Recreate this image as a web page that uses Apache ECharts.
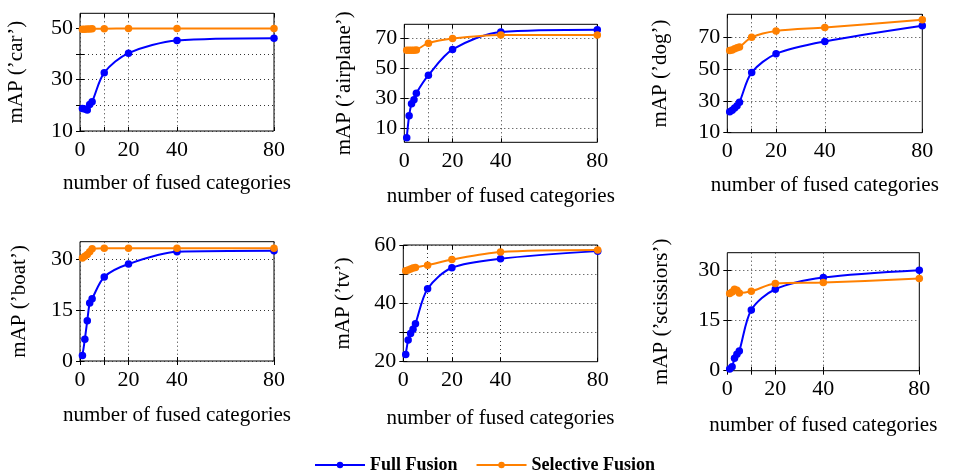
<!DOCTYPE html>
<html><head><meta charset="utf-8">
<script src="https://cdn.jsdelivr.net/npm/echarts@6/dist/echarts.min.js"></script>
<style>html,body{margin:0;padding:0;background:#fff}#c{width:954px;height:473px}</style>
</head><body><div id="c"></div>
<script>
// ---- data ----
const xs = [1, 2, 3, 4, 5, 10, 20, 40, 80];
const xTickLabels = [0, 20, 40, 80];
const xTicks = [0, 10, 20, 40, 80];

const carFull = [18.8, 18.6, 18.2, 20.3, 21.4, 32.7, 40.3, 45.2, 46.1];
const carSelective = [49.6, 49.6, 49.7, 49.7, 49.8, 49.8, 49.9, 49.9, 49.9];
const carYTicks = [10, 20, 30, 40, 50];
const carYLabels = [10, 30, 50];

const airplaneFull = [3.5, 18.2, 26.2, 28.9, 33.3, 45.3, 62.5, 74.2, 75.7];
const airplaneSelective = [62.0, 62.0, 62.0, 62.0, 62.2, 66.7, 69.8, 72.2, 72.2];
const airplaneYTicks = [10, 30, 50, 70];
const airplaneYLabels = [10, 30, 50, 70];

const dogFull = [23.2, 24.2, 25.5, 27.0, 29.2, 47.9, 59.6, 67.4, 77.3];
const dogSelective = [61.7, 62.0, 62.8, 63.4, 63.9, 70.0, 74.0, 76.2, 81.1];
const dogYTicks = [10, 30, 50, 70];
const dogYLabels = [10, 30, 50, 70];

const boatFull = [1.6, 6.4, 11.9, 17.1, 18.4, 24.8, 28.6, 32.2, 32.5];
const boatSelective = [30.4, 30.9, 31.4, 32.2, 33.1, 33.3, 33.3, 33.3, 33.3];
const boatYTicks = [0, 15, 30];
const boatYLabels = [0, 15, 30];

const tvFull = [22.5, 27.4, 29.7, 31.1, 33.0, 45.0, 52.2, 55.3, 57.9];
const tvSelective = [51.2, 51.4, 51.8, 52.1, 52.3, 53.1, 55.0, 57.6, 58.3];
const tvYTicks = [20, 30, 40, 50, 60];
const tvYLabels = [20, 40, 60];

const scissorsFull = [0.5, 1.2, 3.7, 4.9, 5.9, 18.1, 24.3, 27.8, 30.0];
const scissorsSelective = [23.0, 23.5, 24.3, 24.0, 23.2, 23.7, 26.0, 26.3, 27.5];
const scissorsYTicks = [0, 15, 30];
const scissorsYLabels = [0, 15, 30];

const yNames = ['mAP (’car’)', 'mAP (’airplane’)', 'mAP (’dog’)', 'mAP (’boat’)', 'mAP (’tv’)', 'mAP (’scissiors’)'];
const xName = 'number of fused categories';
const seriesNames = ['Full Fusion', 'Selective Fusion'];

// ---- layout ----
const panels = [
  {full: carFull, sel: carSelective, yt: carYTicks, yl: carYLabels, ymin: 10, ymax: 55.8,
   left: 80, top: 13.3, width: 194, height: 117.7, nameGap: 53, xGap: 42},
  {full: airplaneFull, sel: airplaneSelective, yt: airplaneYTicks, yl: airplaneYLabels, ymin: 0.5, ymax: 79.3,
   left: 404.3, top: 24.3, width: 193, height: 118, nameGap: 49, xGap: 44},
  {full: dogFull, sel: dogSelective, yt: dogYTicks, yl: dogYLabels, ymin: 10, ymax: 84.5,
   left: 727.3, top: 14.3, width: 195, height: 118.4, nameGap: 56, xGap: 42},
  {full: boatFull, sel: boatSelective, yt: boatYTicks, yl: boatYLabels, ymin: 0, ymax: 35.2,
   left: 80, top: 241.7, width: 194, height: 119.3, nameGap: 50, xGap: 44},
  {full: tvFull, sel: tvSelective, yt: tvYTicks, yl: tvYLabels, ymin: 20, ymax: 60,
   left: 403.3, top: 245, width: 194.4, height: 116.7, nameGap: 49, xGap: 46},
  {full: scissorsFull, sel: scissorsSelective, yt: scissorsYTicks, yl: scissorsYLabels, ymin: 0, ymax: 35.2,
   left: 727.3, top: 252.7, width: 192, height: 118, nameGap: 55, xGap: 44}
];

const FONT = '"Liberation Serif", "Times New Roman", serif';
const BLUE = '#0000ff';
const ORANGE = '#ff8000';
const gridLine = {show: true, lineStyle: {color: '#333', type: [1, 3], width: 1}};

const grid = [], xAxis = [], yAxis = [], series = [];
panels.forEach((p, i) => {
  grid.push({left: p.left, top: p.top, width: p.width, height: p.height,
             show: true, borderColor: '#000', borderWidth: 1, backgroundColor: 'transparent'});
  xAxis.push({
    type: 'value', gridIndex: i, min: 0, max: 80, position: 'bottom',
    name: xName, nameLocation: 'middle', nameGap: p.xGap,
    nameTextStyle: {fontFamily: FONT, fontSize: 21, color: '#000'},
    axisLine: {show: false},
    axisTick: {show: true, inside: true, length: 4, customValues: xTicks, lineStyle: {color: '#000'}},
    axisLabel: {customValues: xTickLabels, fontFamily: FONT, fontSize: 22, color: '#000', margin: 8},
    splitLine: gridLine
  });
  xAxis.push({
    type: 'value', gridIndex: i, min: 0, max: 80, position: 'top',
    axisLine: {show: false},
    axisTick: {show: true, inside: true, length: 4, customValues: xTicks, lineStyle: {color: '#000'}},
    axisLabel: {show: false}, splitLine: {show: false}
  });
  yAxis.push({
    type: 'value', gridIndex: i, min: p.ymin, max: p.ymax, position: 'left',
    name: yNames[i], nameLocation: 'middle', nameGap: p.nameGap,
    nameTextStyle: {fontFamily: FONT, fontSize: 21, color: '#000'},
    axisLine: {show: false},
    axisTick: {show: true, inside: true, length: 4, customValues: p.yt, lineStyle: {color: '#000'}},
    axisLabel: {customValues: p.yl, fontFamily: FONT, fontSize: 22, color: '#000', margin: 7},
    splitLine: gridLine
  });
  yAxis.push({
    type: 'value', gridIndex: i, min: p.ymin, max: p.ymax, position: 'right',
    axisLine: {show: false},
    axisTick: {show: true, inside: true, length: 4, customValues: p.yt, lineStyle: {color: '#000'}},
    axisLabel: {show: false}, splitLine: {show: false}
  });
  [[p.full, BLUE, seriesNames[0]], [p.sel, ORANGE, seriesNames[1]]].forEach(([vals, col, nm]) => {
    series.push({
      type: 'line', name: nm, xAxisIndex: 2 * i, yAxisIndex: 2 * i,
      data: xs.map((x, k) => [x, vals[k]]),
      smooth: 0.3, symbol: 'circle', symbolSize: 7.5,
      lineStyle: {color: col, width: 2}, itemStyle: {color: col},
      animation: false, clip: false
    });
  });
});

const chart = echarts.init(document.getElementById('c'), null, {renderer: 'canvas'});
chart.setOption({
  backgroundColor: '#fff',
  animation: false,
  grid, xAxis, yAxis, series,
  legend: {
    data: seriesNames, left: 314, top: 456, padding: 0,
    itemWidth: 50, itemHeight: 8, itemGap: 18,
    textStyle: {fontFamily: FONT, fontSize: 18, fontWeight: 'bold', color: '#000'}
  }
});
</script></body></html>
